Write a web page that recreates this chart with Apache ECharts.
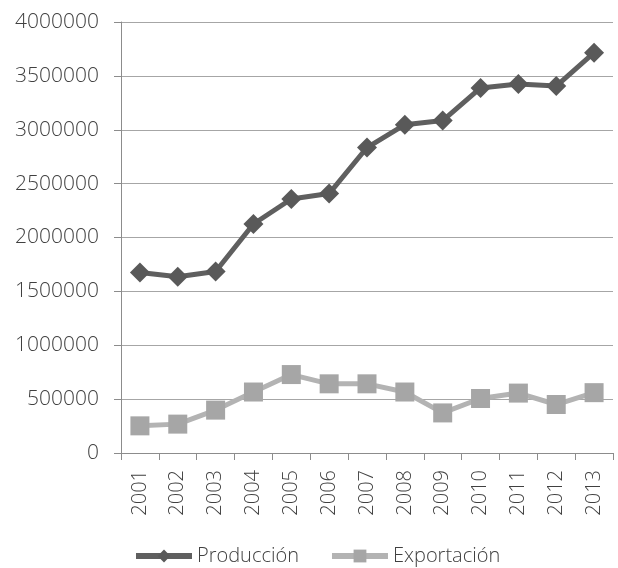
<!DOCTYPE html>
<html lang="es">
<head>
    <meta charset="utf-8" />
    <title>Producción y Exportación</title>
    <script src="https://cdn.jsdelivr.net/npm/echarts@6/dist/echarts.min.js"></script>
</head>
<body style="margin:0;background:#fff;">
    <div id="main" style="width:618px;height:568px;"></div>
    <script type="text/javascript">
        var years = ['2001', '2002', '2003', '2004', '2005', '2006', '2007', '2008', '2009', '2010', '2011', '2012', '2013'];
        var produccion = [1675000, 1636000, 1685000, 2125000, 2357000, 2408000, 2835000, 3047000, 3085000, 3388000, 3425000, 3405000, 3715000];
        var exportacion = [252000, 268000, 398000, 566000, 728000, 642000, 642000, 566000, 372000, 506000, 556000, 450000, 560000];

        var fontFam = "'Open Sans', 'Liberation Sans', sans-serif";
        var myChart = echarts.init(document.getElementById('main'));
        var option = {
            animation: false,
            textStyle: { fontFamily: fontFam },
            grid: { left: 121, right: 5, top: 22, bottom: 115 },
            legend: {
                top: 541,
                left: 128,
                itemWidth: 56,
                itemHeight: 16,
                itemGap: 30,
                lineStyle: { width: 6 },
                textStyle: { fontSize: 20, color: '#404040', fontWeight: 300, fontFamily: fontFam },
                data: ['Producción', 'Exportación']
            },
            xAxis: {
                type: 'category',
                data: years,
                boundaryGap: true,
                axisLine: { lineStyle: { color: '#8c8c8c', width: 1 } },
                axisTick: { show: true, length: 7, lineStyle: { color: '#8c8c8c' } },
                axisLabel: { rotate: 90, margin: 17, fontSize: 20, color: '#404040', fontWeight: 300, interval: 0 }
            },
            yAxis: {
                type: 'value',
                min: 0,
                max: 4000000,
                interval: 500000,
                axisLine: { show: true, lineStyle: { color: '#8c8c8c', width: 1 } },
                axisTick: { show: true, length: 7, lineStyle: { color: '#8c8c8c' } },
                axisLabel: {
                    margin: 22, fontSize: 21, color: '#404040', fontWeight: 300,
                    formatter: function (v) { return String(v); }
                },
                splitLine: { lineStyle: { color: '#a6a6a6', width: 1 } }
            },
            series: [
                {
                    name: 'Producción',
                    type: 'line',
                    data: produccion,
                    symbol: 'diamond',
                    symbolSize: 20,
                    itemStyle: { color: '#595959' },
                    lineStyle: { color: '#5f5f5f', width: 5 }
                },
                {
                    name: 'Exportación',
                    type: 'line',
                    data: exportacion,
                    symbol: 'rect',
                    symbolSize: 19,
                    itemStyle: { color: '#a6a6a6' },
                    lineStyle: { color: '#b3b3b3', width: 5 }
                }
            ]
        };
        myChart.setOption(option);
    </script>
</body>
</html>
